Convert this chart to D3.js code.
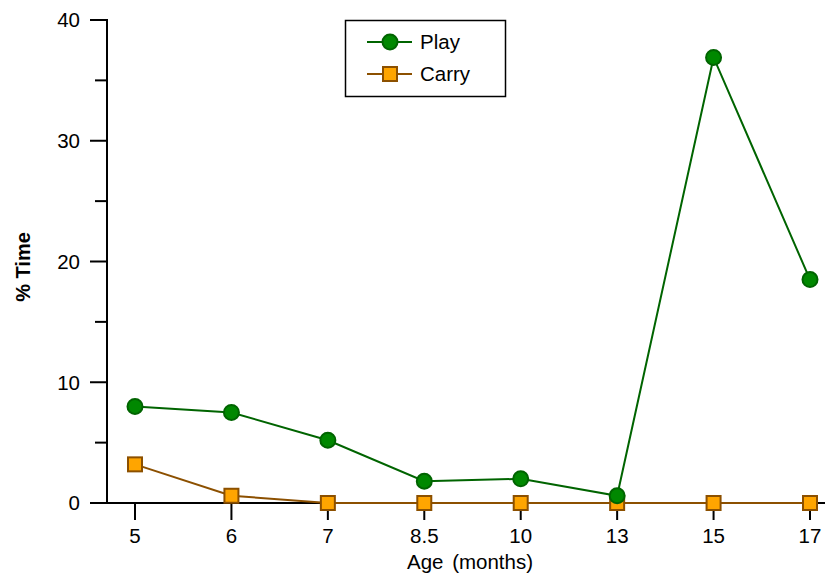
<!DOCTYPE html>
<html><head><meta charset="utf-8">
<script src="https://cdn.jsdelivr.net/npm/d3@7"></script>
<style>body{margin:0;background:#fff}svg{display:block;font-family:"Liberation Sans",Arial,sans-serif}</style>
</head><body><svg id="c" width="825" height="573"></svg>
<script>
const ages = ["5","6","7","8.5","10","13","15","17"];
const playValues = [8.0, 7.5, 5.2, 1.8, 2.0, 0.6, 36.9, 18.5];
const carryValues = [3.2, 0.6, 0, 0, 0, 0, 0, 0];
const yMajorTicks = [0, 10, 20, 30, 40];
const yMinorTicks = [5, 15, 25, 35];

const svg = d3.select("#c");
const x = d3.scalePoint().domain(ages).range([135, 810]);
const y = d3.scaleLinear().domain([0, 40]).range([503, 20]);

// Y axis
const gy = svg.append("g").attr("transform","translate(107,0)");
gy.append("line").attr("y1", y(40)-1).attr("y2", y(0)+1).attr("stroke","#000").attr("stroke-width",2);
gy.selectAll(".maj").data(yMajorTicks).join("line").attr("x1",-17).attr("x2",0)
  .attr("y1",d=>y(d)).attr("y2",d=>y(d)).attr("stroke","#000").attr("stroke-width",2);
gy.selectAll(".min").data(yMinorTicks).join("line").attr("x1",-12).attr("x2",0)
  .attr("y1",d=>y(d)).attr("y2",d=>y(d)).attr("stroke","#000").attr("stroke-width",2);
gy.selectAll("text").data(yMajorTicks).join("text").attr("x",-27).attr("y",d=>y(d)).attr("dy","0.36em")
  .attr("text-anchor","end").attr("font-size",20.5).text(d=>d);

// X axis
const gx = svg.append("g").attr("transform","translate(0,503)");
gx.append("line").attr("x1",90).attr("x2",825).attr("stroke","#000").attr("stroke-width",2);
gx.selectAll(".t").data(ages).join("line").attr("x1",d=>x(d)).attr("x2",d=>x(d)).attr("y1",0).attr("y2",17)
  .attr("stroke","#000").attr("stroke-width",2);
gx.selectAll("text").data(ages).join("text").attr("x",d=>x(d)).attr("y",39.5)
  .attr("text-anchor","middle").attr("font-size",20.5).text(d=>d);

svg.append("text").attr("x",470).attr("y",569).attr("text-anchor","middle").attr("font-size",20.5)
  .attr("word-spacing",3).text("Age (months)");
svg.append("text").attr("transform","translate(30,267) rotate(-90)").attr("text-anchor","middle")
  .attr("font-size",20).attr("font-weight","bold").text("% Time");

const line = d3.line().x((d,i)=>x(ages[i])).y(d=>y(d));
const carryStroke = "#8c5000", playStroke = "#006400";

// Carry
svg.append("path").datum(carryValues).attr("d",line).attr("fill","none").attr("stroke",carryStroke).attr("stroke-width",2);
svg.selectAll(".cm").data(carryValues).join("rect").attr("x",(d,i)=>x(ages[i])-7).attr("y",d=>y(d)-7)
  .attr("width",14).attr("height",14).attr("fill","#ffa500").attr("stroke",carryStroke).attr("stroke-width",2);

// Play
svg.append("path").datum(playValues).attr("d",line).attr("fill","none").attr("stroke",playStroke).attr("stroke-width",2);
svg.selectAll(".pm").data(playValues).join("circle").attr("cx",(d,i)=>x(ages[i])).attr("cy",d=>y(d))
  .attr("r",7.5).attr("fill","#008800").attr("stroke",playStroke).attr("stroke-width",2);

// Legend
const lg = svg.append("g");
lg.append("rect").attr("x",345.5).attr("y",20.5).attr("width",160).attr("height",76).attr("fill","#fff").attr("stroke","#000").attr("stroke-width",1.5);
lg.append("line").attr("x1",367).attr("x2",412).attr("y1",42).attr("y2",42).attr("stroke",playStroke).attr("stroke-width",2);
lg.append("circle").attr("cx",390).attr("cy",42).attr("r",7.5).attr("fill","#008800").attr("stroke",playStroke).attr("stroke-width",2);
lg.append("text").attr("x",420).attr("y",42).attr("dy","0.36em").attr("font-size",20.5).text("Play");
lg.append("line").attr("x1",367).attr("x2",412).attr("y1",74).attr("y2",74).attr("stroke",carryStroke).attr("stroke-width",2);
lg.append("rect").attr("x",383).attr("y",67).attr("width",14).attr("height",14).attr("fill","#ffa500").attr("stroke",carryStroke).attr("stroke-width",2);
lg.append("text").attr("x",420).attr("y",74).attr("dy","0.36em").attr("font-size",20.5).text("Carry");
</script></body></html>
